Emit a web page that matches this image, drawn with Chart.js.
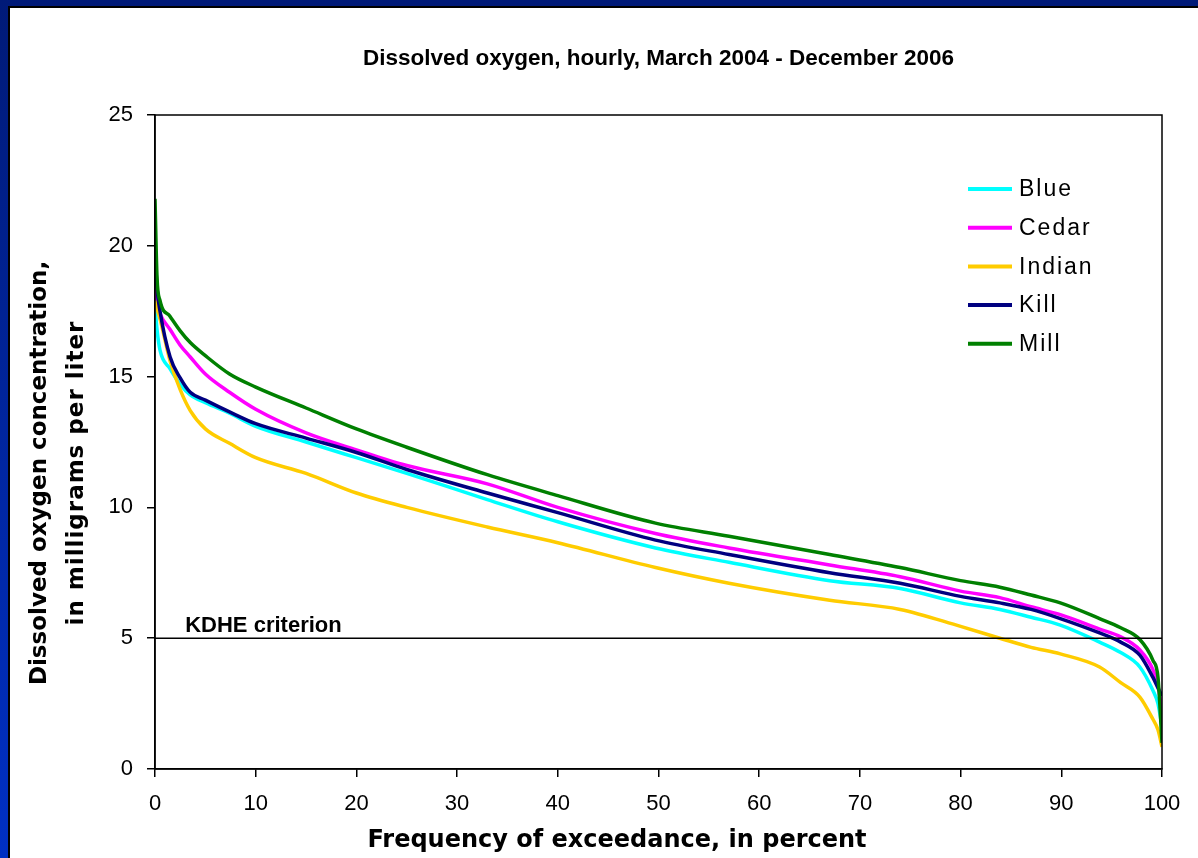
<!DOCTYPE html>
<html>
<head>
<meta charset="utf-8">
<script src="https://cdn.jsdelivr.net/npm/chart.js@4.4.1/dist/chart.umd.min.js"></script>
<style>
  html, body { margin: 0; width: 1198px; height: 858px; overflow: hidden; }
  body { background: linear-gradient(180deg, #001a78 0%, #0030c4 100%); position: relative; }
  #panel { position: absolute; left: 8px; top: 6px; width: 1210px; height: 870px; background: #fff;
           border-left: 2px solid #000; border-top: 2px solid #000; }
  #grafico { position: absolute; left: 0; top: 0; }
</style>
</head>
<body>
<div id="panel"></div>
<canvas id="grafico" width="1198" height="858"></canvas>
<script>
// frecuencia de excedencia (%)
const porcentaje = [0, 0.2, 0.5, 1.5, 2.5, 3.5, 5, 7.4, 10, 15, 20, 25, 33, 40, 49.7, 57, 67, 74, 80, 83.9, 87, 89.9, 93.8, 95.9, 97.8, 99.1, 99.6, 100];

// oxigeno disuelto (mg/L) por estacion
const blue   = [17.7, 16.8, 16.0, 15.3, 14.7, 14.3, 14.0, 13.6, 13.1, 12.5, 11.9, 11.3, 10.3, 9.45, 8.45, 7.9, 7.2, 6.9, 6.35, 6.1, 5.8, 5.5, 4.85, 4.45, 3.9, 3.0, 2.5, 1.6];
const cedar  = [18.3, 17.8, 17.4, 16.8, 16.2, 15.75, 15.1, 14.4, 13.75, 12.85, 12.2, 11.6, 10.9, 10.0, 9.0, 8.45, 7.8, 7.35, 6.8, 6.55, 6.2, 5.9, 5.35, 5.05, 4.55, 3.8, 3.2, 2.2];
const indian = [17.9, 17.6, 17.2, 15.6, 14.5, 13.7, 13.0, 12.45, 11.9, 11.3, 10.55, 10.0, 9.25, 8.65, 7.7, 7.1, 6.45, 6.1, 5.45, 5.0, 4.65, 4.4, 3.9, 3.3, 2.75, 1.9, 1.5, 0.85];
const kill   = [19.9, 18.4, 17.5, 15.75, 14.95, 14.4, 14.1, 13.65, 13.2, 12.65, 12.1, 11.45, 10.55, 9.8, 8.75, 8.2, 7.5, 7.1, 6.6, 6.35, 6.1, 5.75, 5.2, 4.85, 4.35, 3.5, 3.1, 2.8];
const mill   = [21.8, 18.8, 17.9, 17.3, 16.75, 16.3, 15.8, 15.1, 14.6, 13.8, 13.0, 12.3, 11.25, 10.45, 9.4, 8.9, 8.2, 7.7, 7.2, 6.95, 6.65, 6.35, 5.75, 5.4, 4.95, 4.15, 3.5, 1.0];

const estaciones = ["Blue", "Cedar", "Indian", "Kill", "Mill"];
const colores = ["#00ffff", "#ff00ff", "#ffcc00", "#000080", "#008000"];
const series = [blue, cedar, indian, kill, mill];

const criterio = 5;
const criterioX = [0, 100];

const yTicks = [0, 5, 10, 15, 20, 25];
const xTicks = [0, 10, 20, 30, 40, 50, 60, 70, 80, 90, 100];

const titulo = "Dissolved oxygen, hourly, March 2004 - December 2006";
const tituloY = ["Dissolved oxygen concentration,", "in milligrams per liter"];
const tituloX = "Frequency of exceedance, in percent";
const etiquetaCriterio = "KDHE criterion";

function puntos(valores) {
  return valores.map((v, i) => ({ x: porcentaje[i], y: v }));
}

const datasets = series.map((valores, i) => ({
  label: estaciones[i],
  data: puntos(valores),
  borderColor: colores[i],
  backgroundColor: colores[i],
  borderWidth: 3.5,
  pointRadius: 0,
  cubicInterpolationMode: "monotone",
  order: series.length - i + 1
}));

datasets.push({
  label: etiquetaCriterio,
  data: criterioX.map((x) => ({ x, y: criterio })),
  borderColor: "#000",
  borderWidth: 1.5,
  pointRadius: 0,
  order: 0,
  esCriterio: true
});

const textosGrafico = {
  id: "textosGrafico",
  afterDraw(chart) {
    const { ctx, chartArea, scales } = chart;
    ctx.save();

    // marco del area
    ctx.strokeStyle = "#000";
    ctx.lineWidth = 1.5;
    ctx.strokeRect(chartArea.left, chartArea.top, chartArea.right - chartArea.left, chartArea.bottom - chartArea.top);

    ctx.fillStyle = "#000";
    ctx.textBaseline = "alphabetic";

    // titulo
    ctx.textAlign = "center";
    ctx.font = 'bold 22.5px "Liberation Sans"';
    ctx.fillText(titulo, (chartArea.left + chartArea.right) / 2, 65);

    // titulo eje x
    ctx.font = 'bold 24px "DejaVu Sans"';
    ctx.fillText(tituloX, 617, 847);

    // titulo eje y
    ctx.save();
    ctx.translate(0, 473);
    ctx.rotate(-Math.PI / 2);
    ctx.font = 'bold 23px "DejaVu Sans"';
    ctx.fillText(tituloY[0], 0, 46);
    if ("letterSpacing" in ctx) ctx.letterSpacing = "1px";
    ctx.fillText(tituloY[1], 0, 83);
    ctx.restore();

    // etiqueta del criterio
    ctx.textAlign = "left";
    ctx.font = 'bold 22px "Liberation Sans"';
    ctx.fillText(etiquetaCriterio, scales.x.getPixelForValue(3), scales.y.getPixelForValue(criterio) - 6);

    // leyenda
    ctx.font = '23px "Liberation Sans"';
    ctx.textBaseline = "middle";
    if ("letterSpacing" in ctx) ctx.letterSpacing = "2px";
    chart.data.datasets.filter((d) => !d.esCriterio).forEach((d, i) => {
      const y = 189 + i * 38.7;
      ctx.strokeStyle = d.borderColor;
      ctx.lineWidth = 4;
      ctx.beginPath();
      ctx.moveTo(968, y);
      ctx.lineTo(1012, y);
      ctx.stroke();
      ctx.fillText(d.label, 1019, y + 1);
    });

    ctx.restore();
  }
};

const ejeComun = {
  grid: { drawOnChartArea: false, drawTicks: true, tickLength: 8, color: "#000", lineWidth: 1.5 },
  border: { display: true, color: "#000", width: 1.5 }
};

new Chart(document.getElementById("grafico"), {
  type: "line",
  data: { datasets },
  options: {
    responsive: false,
    devicePixelRatio: 1,
    animation: false,
    layout: { padding: { left: 0, top: 115, right: 36, bottom: 0 } },
    plugins: {
      legend: { display: false },
      title: { display: false },
      tooltip: { enabled: false }
    },
    scales: {
      x: {
        ...ejeComun,
        type: "linear",
        min: 0,
        max: 100,
        afterBuildTicks: (scale) => { scale.ticks = xTicks.map((value) => ({ value })); },
        afterFit: (scale) => { scale.height = 89; },
        ticks: { color: "#000", padding: 14, font: { family: "Liberation Sans", size: 22 } }
      },
      y: {
        ...ejeComun,
        min: 0,
        max: 25,
        afterBuildTicks: (scale) => { scale.ticks = yTicks.map((value) => ({ value })); },
        afterFit: (scale) => { scale.width = 155; },
        ticks: { color: "#000", padding: 14, font: { family: "Liberation Sans", size: 22 } }
      }
    }
  },
  plugins: [textosGrafico]
});
</script>
</body>
</html>
